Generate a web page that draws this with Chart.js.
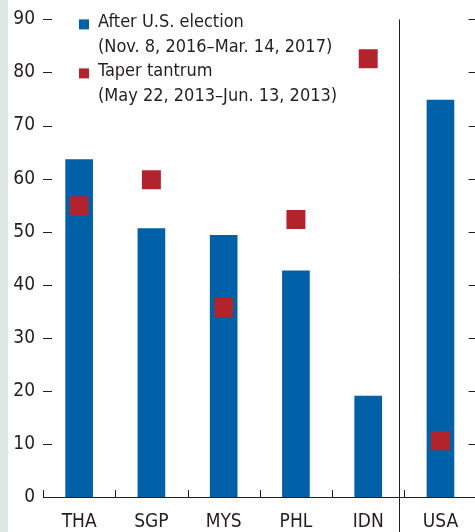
<!DOCTYPE html>
<html>
<head>
<meta charset="utf-8">
<script src="https://cdn.jsdelivr.net/npm/chart.js@4.4.1/dist/chart.umd.min.js"></script>
<style>
  html, body { margin: 0; padding: 0; background: #fff; overflow: hidden; }
  #wrap {
    position: relative; width: 475px; height: 532px; overflow: hidden;
    background: linear-gradient(to right, #dfe7e5 0, #dfe7e5 8px, #fff 8px);
  }
  canvas { position: absolute; left: 0; top: 0; }
</style>
</head>
<body>
<div id="wrap"><canvas id="chart" width="490" height="532"></canvas></div>
<script>
// Country codes and the two episodes (percent)
const categories = ['THA', 'SGP', 'MYS', 'PHL', 'IDN', 'USA'];
const afterElection = [63.6, 50.6, 49.3, 42.6, 19.0, 74.8];
const taperTantrum = [54.9, 59.8, 35.7, 52.3, 82.6, 10.6];
const seriesLabels = [
    ['After U.S. election', '(Nov. 8, 2016\u2013Mar. 14, 2017)'],
    ['Taper tantrum', '(May 22, 2013\u2013Jun. 13, 2013)']
];
const yTicks = [0, 10, 20, 30, 40, 50, 60, 70, 80, 90];

const BLUE = '#0061a8';
const RED = '#b3232b';
const INK = '#231f20';
const FONT = '"DejaVu Sans Condensed", "Liberation Sans", sans-serif';

/**
 * Tick dashes inside the plot, category boundary ticks, the USA divider
 * and the two-line legend in the upper left.
 */
const decorations = {
    id: 'decorations',
    afterDraw(chart) {
        const ctx = chart.ctx;
        const area = chart.chartArea;
        const x = chart.scales.x;
        const y = chart.scales.y;
        ctx.save();
        ctx.strokeStyle = INK;
        ctx.lineWidth = 1;

        // left and right value ticks
        yTicks.forEach(v => {
            const py = Math.round(y.getPixelForValue(v)) + 0.5;
            ctx.beginPath();
            ctx.moveTo(area.left, py);
            ctx.lineTo(area.left + 9, py);
            ctx.moveTo(area.right - 8, py);
            ctx.lineTo(area.right, py);
            ctx.stroke();
        });

        // category boundary ticks pointing up from the axis
        const step = (area.right - area.left) / categories.length;
        for (let i = 0; i <= categories.length; i++) {
            const px = Math.round(area.left + i * step) + 0.5;
            ctx.beginPath();
            ctx.moveTo(px, area.bottom);
            ctx.lineTo(px, area.bottom - 7);
            ctx.stroke();
        }

        // divider between the region and the United States
        const divX = Math.round(x.getPixelForValue(categories.length - 1) - step / 2) - 4.5;
        ctx.beginPath();
        ctx.moveTo(divX, y.getPixelForValue(yTicks[yTicks.length - 1]));
        ctx.lineTo(divX, chart.height);
        ctx.stroke();

        // legend
        const colors = [BLUE, RED];
        const boxX = area.left + 36;
        const textX = area.left + 55;
        ctx.font = '18px ' + FONT;
        ctx.textBaseline = 'alphabetic';
        ctx.textAlign = 'left';
        seriesLabels.forEach((lines, i) => {
            const top = area.top + i * 49;
            ctx.fillStyle = colors[i];
            ctx.fillRect(boxX, top, 10, 10);
            ctx.fillStyle = INK;
            ctx.fillText(lines[0], textX, top + 8);
            ctx.fillText(lines[1], textX, top + 33);
        });
        ctx.restore();
    }
};

new Chart(document.getElementById('chart'), {
    type: 'bar',
    data: {
        labels: categories,
        datasets: [
            {
                type: 'line',
                label: seriesLabels[1][0],
                data: taperTantrum,
                showLine: false,
                pointStyle: 'rect',
                pointRadius: 13.4,
                pointHoverRadius: 13.4,
                pointBackgroundColor: RED,
                pointBorderWidth: 0,
                order: 1
            },
            {
                type: 'bar',
                label: seriesLabels[0][0],
                data: afterElection,
                backgroundColor: BLUE,
                barThickness: 27,
                order: 2
            }
        ]
    },
    options: {
        responsive: false,
        animation: false,
        layout: { padding: { top: 19, right: 10, left: 0, bottom: 0 } },
        plugins: {
            legend: { display: false },
            tooltip: { enabled: false }
        },
        scales: {
            x: {
                offset: true,
                grid: { display: false },
                border: { display: true, color: INK, width: 1 },
                ticks: {
                    color: INK,
                    padding: 6,
                    font: { family: FONT, size: 19 }
                },
                afterFit: s => { s.height = 35; }
            },
            y: {
                min: yTicks[0],
                max: yTicks[yTicks.length - 1],
                grid: { display: false, drawTicks: false },
                border: { display: false },
                ticks: {
                    stepSize: 10,
                    color: INK,
                    padding: 8,
                    font: { family: FONT, size: 19 }
                },
                afterFit: s => { s.width = 43; }
            }
        }
    },
    plugins: [decorations]
});
</script>
</body>
</html>
